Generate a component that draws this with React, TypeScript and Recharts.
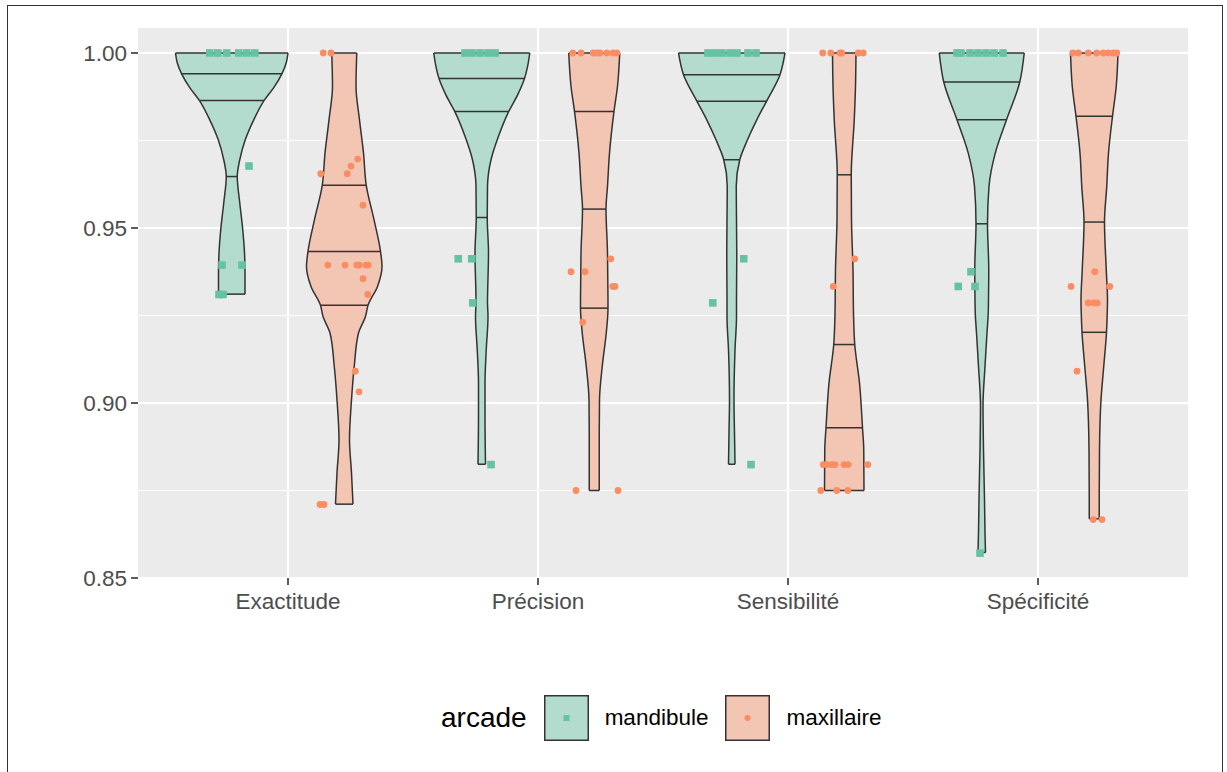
import React from 'react';
import {
  ComposedChart,
  Area,
  Scatter,
  XAxis,
  YAxis,
  CartesianGrid,
  ReferenceLine,
  Legend,
} from 'recharts';

// Categories and groups
const metrics = ['Exactitude', 'Précision', 'Sensibilité', 'Spécificité'];
const arcades = ['mandibule', 'maxillaire'];
const yTicks = [0.85, 0.9, 0.95, 1.0];
const yMinorTicks = [0.875, 0.925, 0.975];

// Violin outlines: [score, half-width of the density in category units]
const exactitudeMandibule = [
  [0.9311, 0.053], [0.9372, 0.053], [0.9429, 0.051], [0.9495, 0.044], [0.9572, 0.032],
  [0.9647, 0.022], [0.9695, 0.032], [0.9752, 0.054], [0.9809, 0.088], [0.9864, 0.129],
  [0.9901, 0.168], [0.9941, 0.201], [0.9972, 0.218], [1.0, 0.225],
];
const exactitudeMaxillaire = [
  [0.8711, 0.035], [0.88, 0.029], [0.8895, 0.021], [0.9009, 0.029], [0.9105, 0.04],
  [0.92, 0.057], [0.9247, 0.085], [0.9279, 0.095], [0.9333, 0.133], [0.939, 0.151],
  [0.9433, 0.145], [0.9524, 0.119], [0.9622, 0.088], [0.9714, 0.077], [0.9809, 0.061],
  [0.9905, 0.047], [1.0, 0.05],
];
const precisionMandibule = [
  [0.8825, 0.015], [0.8962, 0.013], [0.9057, 0.013], [0.9152, 0.018], [0.9247, 0.025],
  [0.9287, 0.023], [0.9429, 0.027], [0.953, 0.022], [0.9619, 0.023], [0.9695, 0.037],
  [0.9762, 0.067], [0.9833, 0.108], [0.9881, 0.144], [0.9927, 0.171], [0.9964, 0.184],
  [1.0, 0.192],
];
const precisionMaxillaire = [
  [0.875, 0.02], [0.8914, 0.02], [0.9009, 0.021], [0.9105, 0.032], [0.92, 0.048],
  [0.9271, 0.055], [0.9429, 0.053], [0.9554, 0.047], [0.9619, 0.053], [0.9714, 0.061],
  [0.9833, 0.079], [0.9905, 0.093], [1.0, 0.102],
];
const sensibiliteMandibule = [
  [0.8825, 0.013], [0.8914, 0.011], [0.9009, 0.009], [0.9152, 0.013], [0.9247, 0.019],
  [0.9286, 0.019], [0.9429, 0.02], [0.9524, 0.019], [0.9619, 0.018], [0.9695, 0.032],
  [0.9752, 0.063], [0.9809, 0.1], [0.9862, 0.139], [0.9938, 0.193], [1.0, 0.213],
];
const sensibiliteMaxillaire = [
  [0.875, 0.079], [0.8867, 0.078], [0.8929, 0.073], [0.9057, 0.061], [0.9167, 0.042],
  [0.9257, 0.037], [0.9381, 0.035], [0.9524, 0.029], [0.9652, 0.028], [0.9809, 0.04],
  [0.9905, 0.045], [1.0, 0.047],
];
const specificiteMandibule = [
  [0.8573, 0.015], [0.8629, 0.013], [0.8724, 0.011], [0.8867, 0.007], [0.899, 0.005],
  [0.9105, 0.013], [0.92, 0.021], [0.9257, 0.026], [0.9295, 0.027], [0.9381, 0.028],
  [0.9512, 0.023], [0.9619, 0.029], [0.9714, 0.054], [0.9809, 0.099], [0.9917, 0.152],
  [1.0, 0.17],
];
const specificiteMaxillaire = [
  [0.8669, 0.02], [0.8724, 0.02], [0.8867, 0.021], [0.9009, 0.027], [0.9105, 0.038],
  [0.9202, 0.049], [0.9257, 0.052], [0.9295, 0.053], [0.9381, 0.048], [0.9517, 0.041],
  [0.9619, 0.05], [0.9714, 0.057], [0.9819, 0.073], [0.9905, 0.088], [1.0, 0.095],
];

// Quartile lines drawn across each violin (25 %, 50 %, 75 %)
const exactitudeMandibuleQ = [0.9647, 0.9864, 0.9941];
const exactitudeMaxillaireQ = [0.9279, 0.9433, 0.9622];
const precisionMandibuleQ = [0.953, 0.9833, 0.9927];
const precisionMaxillaireQ = [0.9271, 0.9554, 0.9833];
const sensibiliteMandibuleQ = [0.9695, 0.9862, 0.9938];
const sensibiliteMaxillaireQ = [0.8929, 0.9167, 0.9652];
const specificiteMandibuleQ = [0.9512, 0.9809, 0.9917];
const specificiteMaxillaireQ = [0.9202, 0.9517, 0.9819];

// Individual observations: [score, horizontal jitter in category units]
const exactitudeMandibulePts = [
  [1, -0.088], [1, -0.056], [1, -0.02], [1, 0.028], [1, 0.06], [1, 0.092],
  [0.9677, 0.069], [0.9394, -0.039], [0.9394, 0.041], [0.931, -0.051], [0.931, -0.035],
];
const exactitudeMaxillairePts = [
  [1, -0.084], [1, -0.053], [0.9697, 0.054], [0.9677, 0.027], [0.9655, -0.094],
  [0.9655, 0.012], [0.9565, 0.075], [0.9394, -0.066], [0.9394, 0.003], [0.9394, 0.05],
  [0.9394, 0.06], [0.9394, 0.087], [0.9394, 0.096], [0.9355, 0.075], [0.931, 0.094],
  [0.9091, 0.044], [0.9032, 0.059], [0.871, -0.097], [0.871, -0.081],
];
const precisionMandibulePts = [
  [1, -0.067], [1, -0.039], [1, -0.007], [1, 0.025], [1, 0.053],
  [0.9412, -0.094], [0.9412, -0.04], [0.9286, -0.036], [0.8824, 0.037],
];
const precisionMaxillairePts = [
  [1, -0.086], [1, -0.053], [1, -0.004], [1, 0.011], [1, 0.023], [1, 0.05], [1, 0.075],
  [1, 0.09], [0.9412, 0.066], [0.9375, -0.093], [0.9375, -0.037], [0.9333, 0.074],
  [0.9333, 0.083], [0.9231, -0.046], [0.875, -0.073], [0.875, 0.095],
];
const sensibiliteMandibulePts = [
  [1, -0.095], [1, -0.067], [1, -0.039], [1, -0.007], [1, 0.021], [1, 0.065], [1, 0.097],
  [0.9412, 0.048], [0.9286, -0.076], [0.8824, 0.077],
];
const sensibiliteMaxillairePts = [
  [1, -0.086], [1, -0.054], [1, -0.017], [1, -0.01], [1, 0.056], [1, 0.076],
  [0.9412, 0.042], [0.9333, -0.044], [0.8824, -0.084], [0.8824, -0.07], [0.8824, -0.05],
  [0.8824, -0.037], [0.8824, -0.001], [0.8824, 0.016], [0.8824, 0.094], [0.875, -0.094],
  [0.875, -0.03], [0.875, 0.014],
];
const specificiteMandibulePts = [
  [1, -0.099], [1, -0.083], [1, -0.047], [1, -0.015], [1, 0.017], [1, 0.049], [1, 0.085],
  [0.9375, -0.043], [0.9333, -0.094], [0.9333, -0.027], [0.8571, -0.007],
];
const specificiteMaxillairePts = [
  [1, -0.086], [1, -0.064], [1, -0.024], [1, 0.01], [1, 0.036], [1, 0.056], [1, 0.076],
  [1, 0.09], [0.9375, 0.002], [0.9333, -0.093], [0.9333, 0.062], [0.9286, -0.024],
  [0.9286, -0.001], [0.9286, 0.012], [0.9091, -0.069], [0.8667, -0.004], [0.8667, 0.031],
];

const violins = [
  { cat: 0, grp: 0, outline: exactitudeMandibule, quart: exactitudeMandibuleQ, pts: exactitudeMandibulePts },
  { cat: 0, grp: 1, outline: exactitudeMaxillaire, quart: exactitudeMaxillaireQ, pts: exactitudeMaxillairePts },
  { cat: 1, grp: 0, outline: precisionMandibule, quart: precisionMandibuleQ, pts: precisionMandibulePts },
  { cat: 1, grp: 1, outline: precisionMaxillaire, quart: precisionMaxillaireQ, pts: precisionMaxillairePts },
  { cat: 2, grp: 0, outline: sensibiliteMandibule, quart: sensibiliteMandibuleQ, pts: sensibiliteMandibulePts },
  { cat: 2, grp: 1, outline: sensibiliteMaxillaire, quart: sensibiliteMaxillaireQ, pts: sensibiliteMaxillairePts },
  { cat: 3, grp: 0, outline: specificiteMandibule, quart: specificiteMandibuleQ, pts: specificiteMandibulePts },
  { cat: 3, grp: 1, outline: specificiteMaxillaire, quart: specificiteMaxillaireQ, pts: specificiteMaxillairePts },
];

const FONT = '"Liberation Sans", Arial, Helvetica, sans-serif';
const FILL = ['#B3DCCF', '#F3C5B3'];
const POINT = ['#66C2A5', '#FC8D62'];
const OUTLINE = '#333333';
const LINE_W = 1.5;
const DODGE = 0.225;

const centre = (cat: number, grp: number) => cat + 1 + (grp === 0 ? -DODGE : DODGE);
const halfWidthAt = (outline: number[][], v: number) => {
  const row = outline.find((r) => r[0] === v);
  return row ? row[1] : 0;
};

const SquareDot = (p: any) => (
  <rect x={p.cx - 3.8} y={p.cy - 3.8} width={7.6} height={7.6} fill={POINT[0]} />
);
const RoundDot = (p: any) => <circle cx={p.cx} cy={p.cy} r={3.4} fill={POINT[1]} />;

const LegendContent = () => (
  <div style={{ display: 'flex', alignItems: 'center', fontFamily: FONT, color: '#000' }}>
    <span style={{ fontSize: 28, marginRight: 17, lineHeight: '46px' }}>arcade</span>
    {arcades.map((a, i) => (
      <div key={a} style={{ display: 'flex', alignItems: 'center', marginRight: i === 0 ? 17 : 0 }}>
        <svg width={45} height={46} style={{ display: 'block' }}>
          <rect x={0.75} y={0.75} width={43.5} height={44.5} fill={FILL[i]} stroke={OUTLINE} strokeWidth={LINE_W} />
          {i === 0 ? (
            <rect x={19.5} y={20} width={6} height={6} fill={POINT[0]} />
          ) : (
            <circle cx={22.5} cy={23} r={3} fill={POINT[1]} />
          )}
        </svg>
        <span style={{ fontSize: 22.5, marginLeft: 16 }}>{a}</span>
      </div>
    ))}
  </div>
);

export default function App() {
  return (
    <div
      style={{
        position: 'absolute',
        left: 0,
        top: 0,
        width: 1227,
        height: 772,
        overflow: 'hidden',
        background: '#fff',
        fontFamily: FONT,
      }}
    >
      <div
        style={{
          position: 'absolute',
          left: 7,
          top: 5,
          width: 1216,
          height: 820,
          border: '1.4px solid #333',
          boxSizing: 'border-box',
        }}
      />
      <div style={{ position: 'absolute', left: 0, top: 0 }}>
        <ComposedChart
          layout="vertical"
          width={1227}
          height={772}
          margin={{ top: 28, right: 39, bottom: 154, left: 8 }}
        >
          <CartesianGrid
            fill="#EBEBEB"
            fillOpacity={1}
            stroke="#FFFFFF"
            strokeWidth={1.2}
            vertical={false}
            horizontalValues={yMinorTicks}
          />
          <CartesianGrid
            stroke="#FFFFFF"
            strokeWidth={2.2}
            horizontalValues={yTicks}
            verticalValues={[1, 2, 3, 4]}
          />
          <XAxis
            type="number"
            dataKey="x"
            domain={[0.4, 4.6]}
            ticks={[1, 2, 3, 4]}
            allowDataOverflow
            height={40}
            axisLine={false}
            tickSize={7}
            tickMargin={8}
            tickLine={{ stroke: OUTLINE, strokeWidth: 1.6 }}
            tick={{ fontSize: 22.5, fill: '#4D4D4D', fontFamily: FONT }}
            tickFormatter={(v: number) => metrics[v - 1]}
          />
          <YAxis
            type="number"
            dataKey="v"
            reversed
            domain={[0.85, 1.00714]}
            ticks={yTicks}
            allowDataOverflow
            width={130}
            axisLine={false}
            tickSize={7}
            tickMargin={4}
            tickLine={{ stroke: OUTLINE, strokeWidth: 1.6 }}
            tick={{ fontSize: 22.5, fill: '#4D4D4D', fontFamily: FONT }}
            tickFormatter={(v: number) => v.toFixed(2)}
          />

          {violins.map((vl, i) => {
            const c = centre(vl.cat, vl.grp);
            const data = vl.outline.map(([v, hw]) => ({ v, span: [c - hw, c + hw] }));
            return (
              <Area
                key={`violin-${i}`}
                data={data}
                dataKey="span"
                type="monotone"
                fill={FILL[vl.grp]}
                fillOpacity={1}
                stroke={OUTLINE}
                strokeWidth={LINE_W}
                dot={false}
                activeDot={false}
                isAnimationActive={false}
                legendType="none"
              />
            );
          })}

          {violins.flatMap((vl, i) => {
            const c = centre(vl.cat, vl.grp);
            const first = vl.outline[0];
            const last = vl.outline[vl.outline.length - 1];
            const rows = [first[0], ...vl.quart, last[0]];
            return rows.map((q, j) => {
              const hw = halfWidthAt(vl.outline, q);
              return (
                <ReferenceLine
                  key={`q-${i}-${j}`}
                  segment={[
                    { x: c - hw, y: q },
                    { x: c + hw, y: q },
                  ]}
                  stroke={OUTLINE}
                  strokeWidth={LINE_W}
                  ifOverflow="visible"
                />
              );
            });
          })}

          {violins.map((vl, i) => {
            const c = centre(vl.cat, vl.grp);
            const data = vl.pts.map(([v, off]) => ({ x: c + off, v }));
            return (
              <Scatter
                key={`pts-${i}`}
                name={arcades[vl.grp]}
                data={data}
                shape={vl.grp === 0 ? SquareDot : RoundDot}
                isAnimationActive={false}
                legendType="none"
              />
            );
          })}

          <Legend
            layout="horizontal"
            verticalAlign="middle"
            align="center"
            wrapperStyle={{ top: 695, left: 441, width: 'auto', height: 46 }}
            content={() => <LegendContent />}
          />
        </ComposedChart>
      </div>
    </div>
  );
}
